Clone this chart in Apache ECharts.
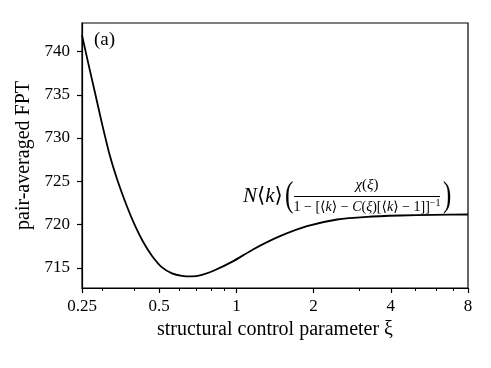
<!DOCTYPE html>
<html>
<head>
<meta charset="utf-8">
<script src="https://cdn.jsdelivr.net/npm/echarts@6/dist/echarts.min.js"></script>
<style>
  html, body { margin: 0; padding: 0; background: #fff; }
  #chart { width: 491px; height: 368px; }
</style>
</head>
<body>
<div id="chart"></div>
<script>
// values
const xi = [0.25, 0.264, 0.281, 0.299, 0.321, 0.345, 0.3745, 0.402, 0.432, 0.469, 0.513,
  0.561, 0.613, 0.671, 0.734, 0.81, 0.973, 1.161, 1.479, 1.885, 2.47, 3.23, 4.345, 5.84, 8];
const fpt = [741.9, 738.75, 735.23, 731.7, 727.97, 724.97, 722.08, 719.89, 718.04, 716.37, 715.04,
  714.35, 714.06, 714.0, 714.18, 714.62, 715.77, 717.12, 718.65, 719.81, 720.58, 720.89, 721.04, 721.12, 721.16];

const xTicks = [0.25, 0.5, 1, 2, 4, 8];
const xMinorTicks = [0.3, 0.4, 0.6, 0.7, 0.8, 0.9, 3, 5, 6, 7];
const yTicks = [715, 720, 725, 730, 735, 740];

const font = '"Liberation Serif", "DejaVu Serif", serif';
const chart = echarts.init(document.getElementById('chart'));

const option = {
  backgroundColor: '#fff',
  textStyle: { fontFamily: font, color: '#000' },
  grid: {
    left: 82, right: 23, top: 23, bottom: 80,
    show: true, borderColor: '#000', borderWidth: 1.2
  },
  xAxis: [
    {
      type: 'log',
      logBase: 2,
      min: 0.25,
      max: 8,
      name: 'structural control parameter ξ',
      nameLocation: 'middle',
      nameGap: 31,
      nameTextStyle: { fontSize: 20, fontFamily: font, color: '#000' },
      axisLine: { lineStyle: { color: '#000', width: 1.2 } },
      axisTick: { customValues: xTicks, length: 5, lineStyle: { color: '#000', width: 1.2 } },
      axisLabel: {
        customValues: xTicks, margin: 10, fontSize: 17, color: '#000', fontFamily: font,
        formatter: v => String(+v.toFixed(2))
      },
      splitLine: { show: false },
      minorTick: { show: false }
    },
    {
      // minor ticks
      type: 'log',
      logBase: 2,
      min: 0.25,
      max: 8,
      position: 'bottom',
      axisLine: { show: false },
      axisTick: { customValues: xMinorTicks, length: 3, lineStyle: { color: '#000', width: 1 } },
      axisLabel: { show: false },
      splitLine: { show: false }
    }
  ],
  yAxis: {
    type: 'value',
    min: 712.66,
    max: 743.3,
    name: 'pair-averaged FPT',
    nameLocation: 'middle',
    nameGap: 42,
    nameTextStyle: { fontSize: 20, fontFamily: font, color: '#000' },
    axisLine: { show: true, lineStyle: { color: '#000', width: 1.2 } },
    axisTick: { show: true, customValues: yTicks, length: 5, lineStyle: { color: '#000', width: 1.2 } },
    axisLabel: { customValues: yTicks, margin: 12, fontSize: 17, color: '#000', fontFamily: font },
    splitLine: { show: false }
  },
  graphic: [
    { type: 'text', x: 94, y: 40, style: { text: '(a)', font: '19px ' + font, fill: '#000', verticalAlign: 'middle' } },
    {
      type: 'text', x: 243, y: 196,
      style: {
        text: '{i|N}⟨{i|k}⟩',
        font: '21px ' + font, fill: '#000', verticalAlign: 'middle',
        rich: { i: { fontStyle: 'italic', fontSize: 21, fontFamily: font } }
      }
    },
    { type: 'text', x: 285, y: 196, scaleY: 1.45, style: { text: '(', font: '25px ' + font, fill: '#000', verticalAlign: 'middle' } },
    { type: 'text', x: 443, y: 196, scaleY: 1.45, style: { text: ')', font: '25px ' + font, fill: '#000', verticalAlign: 'middle' } },
    {
      type: 'text', x: 367, y: 185,
      style: {
        text: '{i|χ}({i|ξ})',
        font: '15px ' + font, fill: '#000', align: 'center', verticalAlign: 'middle',
        rich: { i: { fontStyle: 'italic', fontSize: 15, fontFamily: font } }
      }
    },
    { type: 'line', shape: { x1: 294, y1: 196.5, x2: 440, y2: 196.5 }, style: { stroke: '#000', lineWidth: 1 } },
    {
      type: 'text', x: 367, y: 207,
      style: {
        text: '1 − [⟨{i|k}⟩ − {i|C}({i|ξ})[⟨{i|k}⟩ − 1]]{s|−1}',
        font: '14px ' + font, fill: '#000', align: 'center', verticalAlign: 'middle',
        rich: {
          i: { fontStyle: 'italic', fontSize: 14, fontFamily: font },
          s: { fontSize: 10, fontFamily: font, padding: [0, 0, 7, 0] }
        }
      }
    }
  ],
  series: [
    {
      type: 'line',
      xAxisIndex: 0,
      data: xi.map((x, i) => [x, fpt[i]]),
      smooth: 0.25,
      symbol: 'none',
      lineStyle: { color: '#000', width: 1.8 },
      silent: true
    }
  ]
};

chart.setOption(option);
</script>
</body>
</html>
